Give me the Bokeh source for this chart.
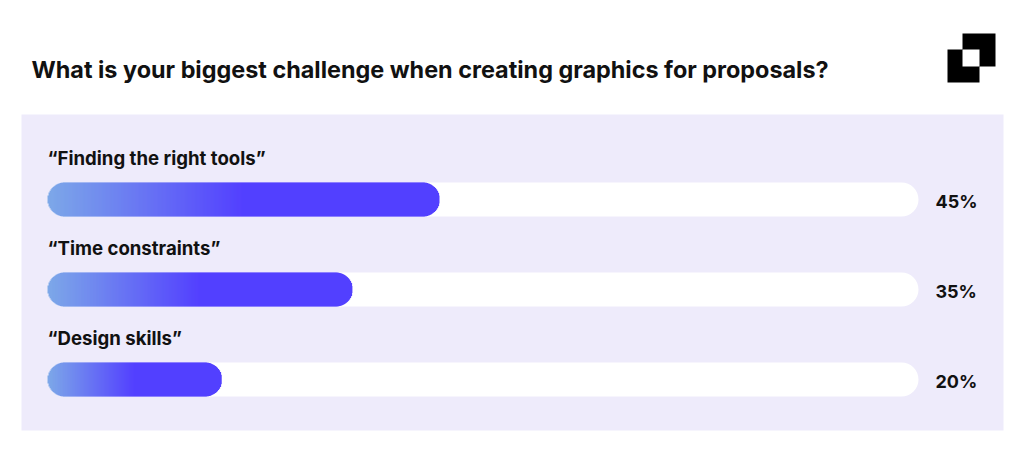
import math
from bokeh.plotting import figure
from bokeh.models import Range1d, ColumnDataSource
from bokeh.core.properties import value
from bokeh.embed import file_html
from bokeh.resources import INLINE

# ---------------- data ----------------
title = "What is your biggest challenge when creating graphics for proposals?"
categories = ["\u201cFinding the right tools\u201d", "\u201cTime constraints\u201d", "\u201cDesign skills\u201d"]
percents = [45, 35, 20]

# ---------------- layout / style ----------------
W, H = 1008, 436
PX_PER_PCT = 8.71          # pixels per percentage point on the track
TRACK_LEFT_PX = 47         # reference-image pixel of 0 %
ROW_PX = 90                # pixels between rows
ROW0_PX = 199              # reference-image pixel of first row centre
MARGIN = 0
TEXT_SHIFT = 6             # px correction for text baseline rendering

x_start = -(TRACK_LEFT_PX - MARGIN) / PX_PER_PCT
x_end = x_start + W / PX_PER_PCT
y_top = -(ROW0_PX - MARGIN) / ROW_PX
y_bottom = y_top + H / ROW_PX


def dx(px):
    return x_start + (px - MARGIN) / PX_PER_PCT


def dy(py):
    return y_top + (py - MARGIN) / ROW_PX


FONT = "Inter"
INK = "#111111"
PANEL = "#EEEBFB"
C0 = (125, 168, 232)
C1 = (83, 64, 255)
BAR_PX = 34
BAR_H = BAR_PX / ROW_PX
RADIUS = 17
GRAD_FRAC = 0.5

p = figure(width=W, height=H, x_range=Range1d(x_start, x_end),
           y_range=Range1d(start=y_bottom, end=y_top),
           x_axis_type=None, y_axis_type=None, toolbar_location=None,
           output_backend="svg", min_border=0, outline_line_color=None,
           background_fill_color="white", border_fill_color="white")
p.grid.visible = False

# panel background
p.quad(left=[dx(21)], right=[dx(1003)], top=[dy(114)], bottom=[dy(430)],
       fill_color=PANEL, line_color=None)

rows = list(range(len(categories)))

# track (100 %)
p.hbar(y=rows, left=0, right=100, height=BAR_H, fill_color="white",
       line_color=None, border_radius=RADIUS)


def mix(t):
    t = max(0.0, min(1.0, t / GRAD_FRAC))
    r, g, b = (round(C0[i] + (C1[i] - C0[i]) * t) for i in range(3))
    return f"#{r:02x}{g:02x}{b:02x}"


# gradient bar built from thin slices (rounded ends via slice heights)
ys, ls, rs, hs, cs = [], [], [], [], []
step = 1.0 / PX_PER_PCT
for r_i, v in zip(rows, percents):
    n = int(math.ceil(v / step))
    bar_px = v * PX_PER_PCT
    for k in range(n):
        l = k * step
        rr = min(v, l + 1.6 * step)
        cpx = (k + 0.5)
        d = 0.0
        if cpx < RADIUS:
            d = RADIUS - cpx
        elif cpx > bar_px - RADIUS:
            d = cpx - (bar_px - RADIUS)
        h = 2 * math.sqrt(max(0.0, RADIUS ** 2 - d ** 2)) if d > 0 else BAR_PX
        h = min(BAR_PX, h)
        ys.append(r_i)
        ls.append(l)
        rs.append(rr)
        hs.append(h / ROW_PX)
        cs.append(mix((l + step / 2) / v))
src = ColumnDataSource(dict(y=ys, left=ls, right=rs, height=hs, color=cs))
p.hbar(y="y", left="left", right="right", height="height", fill_color="color",
       line_color=None, source=src)

# category labels
p.text(x=[0] * len(rows), y=[r - (36 + TEXT_SHIFT) / ROW_PX for r in rows], text=categories,
       text_font=value(FONT), text_font_style="bold", text_font_size="18.6px",
       text_color=INK, text_baseline="alphabetic", text_align="left")

# percentage labels
p.text(x=[dx(935)] * len(rows), y=[r + (8 - TEXT_SHIFT) / ROW_PX for r in rows],
       text=[f"{v}%" for v in percents],
       text_font=value(FONT), text_font_style="bold", text_font_size="18px",
       text_color=INK, text_baseline="alphabetic", text_align="left")

# title
p.text(x=[dx(31)], y=[dy(75 - TEXT_SHIFT)], text=[title], text_font=value(FONT),
       text_font_style="bold", text_font_size="23.4px", text_color=INK,
       text_baseline="alphabetic", text_align="left")

# logo
p.quad(left=[dx(947), dx(962)], right=[dx(979), dx(995)],
       top=[dy(49), dy(33)], bottom=[dy(82), dy(66)],
       fill_color="black", line_color=None)
p.quad(left=[dx(962)], right=[dx(979)], top=[dy(49)], bottom=[dy(66)],
       fill_color="white", line_color=None)

open("out.html", "w").write(file_html(p, INLINE))
